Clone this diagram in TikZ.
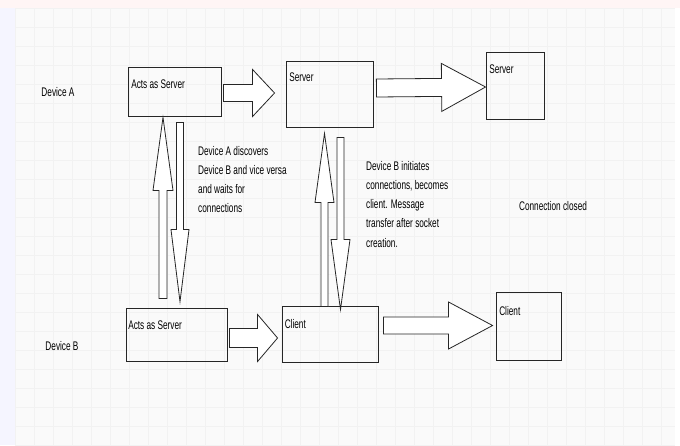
\documentclass[tikz,border=0pt]{standalone}
\usepackage{fontspec}
\setmainfont{Liberation Sans}[FakeStretch=0.66]
\usetikzlibrary{calc}

\newcommand{\blk}[5]{%
 \coordinate (bs) at #1; \coordinate (bt) at #2;
 \coordinate (bh) at ($(bt)!#5!(bs)$);
 \draw[ba] ($(bs)!#3!90:(bt)$) -- ($(bh)!#3!90:(bt)$) -- ($(bh)!#4!90:(bt)$)
 -- (bt) -- ($(bh)!#4!-90:(bt)$) -- ($(bh)!#3!-90:(bt)$) -- ($(bs)!#3!-90:(bt)$) -- cycle;}

\begin{document}
\begin{tikzpicture}[x=1pt,y=-1pt,font=\fontsize{12.5}{19.2}\selectfont,
 b/.style={draw=black!85,line width=0.9pt,inner sep=0pt},
 t/.style={inner sep=0pt,text=black},
 ba/.style={draw=black!85,line width=0.8pt,fill=white,line join=miter}]
\useasboundingbox (0,0) rectangle (680,445);
\fill[white] (0,0) rectangle (680,445);
\fill[blue!4] (0,8) rectangle (15,445);
\fill[red!4] (0,0) rectangle (680,8);
\fill[gray!4] (15,8) rectangle (675,445);
\foreach \gx in {15,34,...,675} \draw[gray!10,line width=0.4pt] (\gx,8) -- (\gx,445);
\foreach \gy in {8,27,...,445} \draw[gray!10,line width=0.4pt] (15,\gy) -- (675,\gy);
\node[t] (da) at (58,92) {Device A};
\node[t] (db) at (62,346) {Device B};
\node[b,minimum width=93pt,minimum height=49pt,
 label={[t,anchor=west,xshift=3.5pt,yshift=-17.5pt]north west:Acts as Server}] (a1) at (174.5,91.5) {};
\node[b,minimum width=87pt,minimum height=66pt,
 label={[t,anchor=west,xshift=3.5pt,yshift=-16.5pt]north west:Server}] (srv) at (329.5,94) {};
\node[b,minimum width=58pt,minimum height=67pt,
 label={[t,anchor=west,xshift=3.5pt,yshift=-18pt]north west:Server}] (srv3) at (515,85.5) {};
\node[b,minimum width=101pt,minimum height=53pt,
 label={[t,anchor=west,xshift=2.5pt,yshift=-18pt]north west:Acts as Server}] (b1) at (176.5,334.5) {};
\node[b,minimum width=96pt,minimum height=56pt,
 label={[t,anchor=west,xshift=3pt,yshift=-18pt]north west:Client}] (cl) at (330,334) {};
\node[b,minimum width=65pt,minimum height=68pt,
 label={[t,anchor=west,xshift=3.5pt,yshift=-19pt]north west:Client}] (cl2) at (528.5,326) {};
\node[t,align=left,anchor=north west] (note1) at (198,146)
 {Device A discovers\\Device B and vice versa\\and waits for\\connections};
\node[t,align=left,anchor=north west] (note2) at (366,161)
 {Device B initiates\\connections, becomes\\client. Message\\transfer after socket\\creation.};
\node[t] (closed) at (553,206) {Connection closed};
\blk{($(a1.east)+(2,1.5)$)}{($(srv.west)+(-11,-1)$)}{8.5pt}{23.5pt}{22pt}
\blk{($(srv.east)+(3,-6)$)}{($(srv3.west)+(0,1.5)$)}{9pt}{24pt}{44pt}
\blk{($(b1.east)+(2,3.5)$)}{($(cl.west)+(-4,4)$)}{9.5pt}{23.5pt}{20pt}
\blk{($(cl.east)+(5,-8.5)$)}{($(cl2.west)+(-3,-0.5)$)}{8.5pt}{23.5pt}{44pt}
\blk{($(b1.north)+(-13.5,-9)$)}{($(a1.south)+(-11.5,1)$)}{4pt}{10pt}{73pt}
\blk{($(a1.south)+(5.5,6)$)}{($(b1.north)+(3.5,-6)$)}{3.5pt}{9pt}{72pt}
\blk{($(cl.north)+(-5.5,1)$)}{($(srv.south)+(-5,6)$)}{3.5pt}{9.5pt}{69pt}
\blk{($(srv.south)+(11,10)$)}{($(cl.north)+(10.5,4)$)}{3.5pt}{9.5pt}{70pt}
\end{tikzpicture}
\end{document}
